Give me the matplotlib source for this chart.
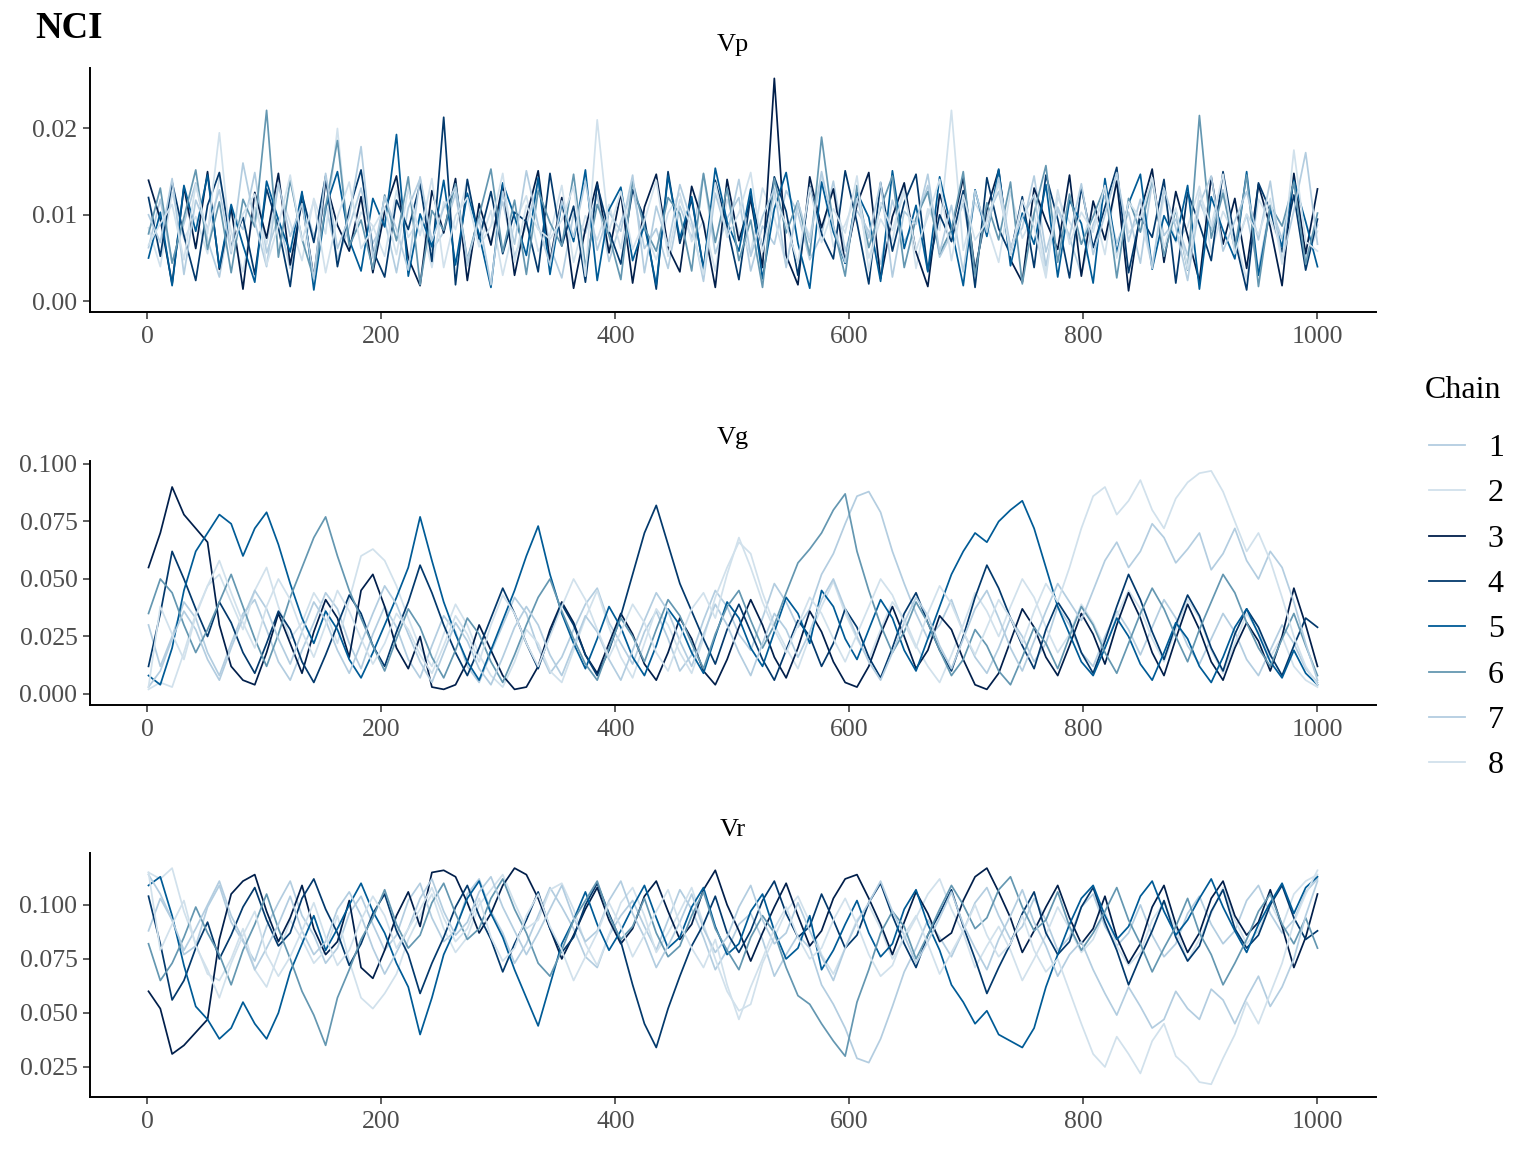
import numpy as np
import matplotlib.pyplot as plt
from matplotlib.lines import Line2D

plt.rcParams['font.family'] = ['Liberation Serif', 'DejaVu Serif']

chain_labels = ['1', '2', '3', '4', '5', '6', '7', '8']
chain_colors = ['#b3cde0', '#d1e1ec', '#011f4b', '#03396c', '#005b96', '#6497b1', '#b3cde0', '#d1e1ec']

# Vp draws, one value every ~10 iterations (units of 1e-4)
vp_1 = [62, 118, 45, 90, 137, 71, 28, 104, 83, 149, 56, 97, 38, 121, 75, 112, 49, 86, 131, 67,
        94, 33, 108, 142, 59, 80, 125, 41, 99, 70, 115, 52, 88, 136, 64, 27, 101, 79, 123, 46,
        92, 130, 61, 84, 38, 110, 73, 147, 55, 96, 120, 35, 87, 66, 128, 102, 48, 77, 139, 58,
        105, 81, 43, 117, 69, 93, 134, 51, 78, 113, 40, 98, 127, 63, 85, 145, 57, 106, 74, 31,
        89, 122, 67, 103, 44, 138, 76, 95, 53, 116, 82, 129, 60, 100, 36, 111, 72, 140, 50, 88]
vp_2 = [85, 40, 126, 72, 98, 55, 143, 81, 34, 109, 66, 132, 91, 47, 119, 78, 200, 60, 103, 87,
        52, 128, 74, 96, 39, 115, 83, 141, 64, 105, 30, 90, 122, 58, 77, 134, 45, 99, 71, 112,
        61, 137, 84, 48, 102, 125, 69, 93, 35, 118, 80, 56, 131, 97, 42, 108, 75, 146, 63, 89,
        124, 50, 95, 70, 136, 38, 107, 82, 221, 59, 114, 88, 45, 127, 73, 101, 33, 120, 92, 66,
        110, 54, 142, 79, 97, 41, 121, 68, 86, 133, 57, 104, 76, 25, 118, 94, 62, 139, 48, 81]
vp_3 = [140, 95, 20, 132, 61, 150, 37, 108, 14, 126, 73, 148, 42, 115, 27, 139, 88, 58, 121, 33,
        104, 145, 50, 18, 128, 79, 142, 24, 113, 65, 136, 30, 97, 151, 46, 120, 15, 84, 138, 56,
        125, 21, 109, 147, 62, 34, 133, 90, 16, 141, 70, 118, 39, 258, 53, 19, 144, 85, 130, 44,
        112, 149, 26, 98, 137, 57, 17, 124, 81, 143, 35, 106, 152, 48, 22, 131, 93, 60, 146, 29,
        116, 71, 139, 12, 103, 153, 45, 127, 76, 23, 144, 66, 119, 38, 135, 86, 18, 148, 55, 130]
vp_4 = [120, 52, 138, 76, 24, 111, 149, 63, 97, 31, 130, 85, 17, 124, 68, 145, 40, 106, 152, 59,
        28, 117, 83, 136, 46, 213, 19, 141, 72, 127, 55, 103, 92, 34, 148, 64, 110, 22, 135, 81,
        43, 129, 96, 14, 150, 67, 118, 38, 140, 87, 25, 122, 61, 144, 104, 30, 133, 78, 49, 151,
        91, 20, 137, 58, 114, 147, 35, 100, 69, 128, 16, 143, 84, 54, 121, 39, 146, 95, 27, 132,
        62, 109, 155, 33, 98, 74, 141, 21, 126, 89, 47, 150, 71, 13, 137, 105, 57, 123, 36, 95]
vp_5 = [50, 103, 18, 134, 81, 146, 39, 112, 65, 22, 139, 94, 57, 127, 13, 108, 150, 71, 35, 119,
        86, 193, 29, 101, 63, 140, 42, 125, 77, 16, 137, 98, 53, 143, 31, 114, 69, 152, 24, 106,
        132, 47, 88, 19, 145, 73, 121, 36, 154, 92, 58, 130, 26, 107, 149, 67, 15, 138, 80, 44,
        126, 97, 23, 151, 61, 111, 34, 144, 84, 18, 129, 75, 153, 41, 102, 66, 135, 28, 117, 90,
        21, 142, 56, 113, 147, 37, 99, 70, 134, 14, 121, 82, 49, 150, 30, 107, 63, 140, 92, 40]
vp_6 = [78, 131, 44, 97, 152, 60, 115, 33, 118, 86, 221, 51, 140, 72, 26, 109, 186, 64, 94, 37,
        123, 70, 144, 19, 105, 82, 136, 48, 99, 153, 57, 117, 31, 128, 91, 64, 147, 40, 112, 76,
        25, 139, 85, 58, 120, 101, 35, 148, 68, 131, 47, 94, 16, 142, 79, 116, 53, 190, 87, 29,
        134, 62, 108, 145, 39, 96, 127, 55, 83, 150, 30, 114, 71, 138, 20, 102, 157, 45, 124, 66,
        98, 133, 27, 119, 80, 143, 52, 106, 36, 215, 73, 125, 60, 146, 17, 111, 87, 138, 43, 102]
vp_7 = [100, 68, 142, 31, 117, 84, 129, 55, 160, 92, 40, 137, 75, 113, 26, 148, 61, 98, 179, 50,
        121, 83, 36, 144, 70, 108, 132, 47, 95, 19, 127, 66, 151, 88, 42, 116, 74, 139, 59, 103,
        81, 146, 33, 110, 64, 135, 92, 23, 125, 77, 141, 52, 98, 130, 39, 115, 68, 150, 86, 45,
        119, 73, 138, 28, 104, 89, 147, 56, 111, 34, 128, 80, 143, 62, 97, 123, 41, 109, 75, 136,
        54, 100, 149, 69, 118, 38, 131, 85, 24, 112, 145, 58, 93, 127, 71, 139, 46, 105, 172, 66]
vp_8 = [65, 90, 112, 48, 135, 78, 195, 58, 101, 124, 42, 88, 146, 70, 116, 33, 97, 138, 61, 84,
        109, 54, 130, 76, 142, 39, 99, 120, 63, 87, 148, 45, 111, 83, 72, 94, 133, 29, 210, 81,
        127, 60, 93, 140, 52, 118, 85, 31, 137, 74, 102, 149, 57, 121, 89, 44, 132, 68, 107, 79,
        145, 35, 114, 82, 126, 59, 98, 141, 47, 123, 71, 92, 136, 53, 117, 86, 27, 129, 66, 103,
        80, 134, 50, 115, 96, 143, 62, 108, 37, 126, 87, 147, 55, 101, 77, 119, 43, 175, 69, 58]

# Vg draws (units of 1e-3)
vg_1 = [30, 12, 25, 40, 33, 18, 8, 22, 35, 41, 28, 14, 6, 19, 31, 44, 37, 22, 11, 26,
        38, 29, 15, 7, 21, 34, 27, 12, 5, 18, 30, 42, 35, 20, 9, 16, 28, 39, 46, 31,
        22, 13, 27, 36, 24, 10, 17, 32, 45, 38, 26, 19, 33, 48, 40, 29, 37, 52, 61, 74,
        86, 88, 79, 62, 48, 35, 24, 30, 41, 27, 16, 9, 20, 33, 25, 14, 22, 38, 30, 18,
        12, 25, 36, 28, 17, 29, 41, 33, 21, 13, 24, 35, 27, 15, 8, 19, 30, 22, 11, 5]
vg_2 = [2, 5, 3, 18, 35, 47, 52, 40, 28, 45, 55, 38, 24, 31, 44, 36, 22, 41, 60, 63,
        58, 47, 33, 20, 12, 26, 39, 30, 17, 8, 3, 14, 28, 22, 10, 5, 19, 33, 45, 29,
        16, 7, 22, 37, 30, 18, 9, 24, 42, 55, 66, 61, 44, 30, 20, 11, 25, 38, 49, 35,
        24, 15, 28, 40, 33, 21, 12, 5, 17, 30, 44, 36, 25, 38, 50, 42, 29, 18, 26, 39,
        31, 20, 34, 45, 37, 24, 14, 28, 41, 33, 19, 9, 22, 35, 27, 16, 25, 12, 6, 3]
vg_3 = [55, 70, 90, 78, 72, 66, 30, 12, 6, 4, 18, 35, 22, 9, 27, 41, 33, 16, 45, 52,
        38, 20, 11, 25, 3, 2, 4, 14, 30, 19, 8, 2, 3, 12, 28, 40, 31, 17, 9, 22,
        35, 26, 13, 6, 18, 33, 24, 10, 4, 15, 29, 41, 30, 16, 7, 20, 36, 27, 14, 5,
        3, 12, 26, 38, 25, 11, 19, 34, 28, 15, 4, 2, 9, 23, 37, 29, 16, 8, 21, 35,
        26, 13, 30, 44, 33, 18, 8, 24, 39, 28, 14, 6, 20, 31, 23, 10, 25, 46, 30, 12]
vg_4 = [12, 35, 62, 50, 37, 25, 40, 31, 18, 9, 22, 36, 28, 14, 5, 17, 30, 43, 35, 21,
        12, 27, 40, 56, 44, 30, 18, 8, 20, 33, 46, 35, 22, 11, 26, 39, 30, 17, 8, 19,
        34, 52, 70, 82, 65, 48, 36, 24, 13, 28, 39, 27, 15, 6, 19, 32, 25, 12, 22, 37,
        29, 16, 7, 20, 35, 44, 31, 19, 10, 25, 42, 56, 46, 33, 21, 11, 28, 40, 32, 18,
        9, 23, 38, 52, 41, 27, 15, 30, 43, 34, 20, 10, 26, 37, 29, 17, 8, 21, 33, 29]
vg_5 = [8, 4, 20, 45, 62, 70, 78, 74, 60, 72, 79, 65, 48, 33, 22, 36, 28, 15, 7, 18,
        30, 42, 55, 77, 58, 40, 26, 14, 6, 19, 32, 45, 60, 73, 52, 35, 22, 11, 24, 38,
        29, 16, 8, 21, 37, 30, 18, 9, 25, 40, 33, 20, 12, 27, 42, 35, 22, 45, 38, 24,
        15, 28, 41, 33, 19, 10, 24, 38, 52, 62, 70, 66, 75, 80, 84, 72, 55, 38, 26, 14,
        8, 20, 33, 25, 13, 6, 18, 31, 24, 12, 5, 16, 29, 37, 26, 14, 7, 19, 9, 4]
vg_6 = [35, 50, 44, 30, 18, 28, 40, 52, 38, 24, 12, 26, 42, 55, 68, 77, 60, 45, 33, 21,
        10, 24, 37, 29, 16, 7, 19, 33, 26, 14, 5, 17, 30, 42, 50, 36, 24, 13, 6, 20,
        33, 25, 14, 28, 41, 34, 22, 11, 26, 38, 45, 32, 20, 30, 44, 57, 63, 70, 80, 87,
        62, 45, 30, 18, 27, 40, 31, 19, 8, 15, 28, 21, 10, 4, 16, 29, 22, 11, 25, 38,
        30, 18, 9, 22, 35, 46, 37, 25, 14, 28, 40, 52, 44, 31, 20, 12, 24, 35, 21, 8]
vg_7 = [3, 10, 24, 36, 28, 15, 6, 20, 33, 45, 37, 24, 13, 27, 40, 32, 19, 9, 22, 35,
        47, 39, 26, 14, 5, 18, 31, 23, 11, 4, 16, 29, 38, 30, 17, 8, 21, 34, 27, 15,
        6, 19, 32, 44, 36, 23, 12, 26, 39, 30, 18, 8, 22, 35, 28, 16, 27, 41, 50, 37,
        25, 14, 6, 18, 31, 42, 34, 21, 11, 24, 37, 45, 33, 20, 10, 23, 36, 48, 40, 32,
        45, 58, 66, 55, 62, 74, 68, 57, 63, 70, 54, 61, 72, 58, 50, 62, 55, 40, 22, 6]
vg_8 = [3, 38, 26, 15, 34, 47, 58, 44, 31, 20, 38, 50, 41, 27, 16, 30, 45, 36, 24, 13,
        22, 35, 28, 17, 9, 21, 34, 26, 14, 30, 43, 35, 22, 12, 25, 38, 50, 41, 28, 16,
        27, 39, 31, 18, 10, 24, 37, 44, 33, 52, 68, 55, 40, 28, 18, 30, 42, 35, 24, 14,
        26, 38, 50, 43, 31, 20, 35, 47, 39, 27, 17, 29, 41, 33, 22, 36, 48, 40, 55, 72,
        86, 90, 78, 84, 93, 80, 72, 85, 92, 96, 97, 88, 75, 62, 70, 58, 42, 25, 12, 4]

# Vr draws (units of 1e-3)
vr_1 = [88, 103, 93, 77, 81, 99, 109, 92, 83, 74, 90, 101, 111, 95, 86, 73, 80, 96, 104, 91,
        79, 86, 102, 110, 94, 83, 88, 105, 112, 97, 87, 73, 82, 95, 108, 99, 89, 76, 71, 86,
        95, 102, 90, 79, 93, 107, 98, 85, 70, 79, 91, 96, 84, 67, 77, 86, 80, 63, 54, 43,
        29, 27, 38, 53, 69, 80, 93, 85, 76, 88, 101, 108, 95, 84, 90, 103, 93, 79, 85, 99,
        105, 90, 81, 87, 100, 86, 76, 82, 96, 104, 91, 82, 88, 102, 109, 96, 87, 93, 106, 112]
vr_2 = [115, 112, 117, 97, 82, 68, 65, 75, 89, 70, 62, 77, 93, 84, 73, 79, 95, 74, 57, 52,
        59, 68, 84, 95, 105, 89, 78, 85, 100, 107, 114, 101, 89, 93, 107, 110, 98, 82, 72, 86,
        101, 108, 95, 78, 87, 97, 108, 91, 75, 60, 51, 54, 73, 85, 97, 104, 92, 77, 68, 80,
        93, 100, 89, 75, 84, 94, 105, 112, 98, 87, 71, 81, 90, 79, 65, 75, 86, 99, 89, 78,
        84, 97, 81, 72, 78, 93, 101, 89, 74, 84, 96, 108, 93, 82, 88, 101, 90, 105, 111, 114]
vr_3 = [60, 52, 31, 35, 41, 47, 84, 105, 111, 114, 97, 83, 94, 109, 89, 77, 83, 102, 71, 66,
        79, 95, 106, 90, 115, 116, 113, 101, 87, 96, 109, 117, 114, 103, 89, 75, 86, 98, 108, 93,
        82, 89, 104, 111, 97, 84, 91, 107, 116, 100, 88, 74, 87, 99, 110, 95, 81, 88, 103, 112,
        114, 103, 91, 77, 92, 106, 96, 83, 87, 102, 113, 117, 106, 94, 78, 88, 99, 109, 94, 82,
        89, 104, 85, 73, 82, 99, 109, 91, 78, 87, 103, 111, 95, 86, 92, 107, 90, 71, 85, 105]
vr_4 = [104, 82, 56, 65, 80, 92, 75, 86, 99, 108, 93, 81, 87, 103, 112, 98, 87, 72, 82, 96,
        105, 88, 77, 59, 73, 85, 99, 109, 95, 84, 69, 82, 93, 106, 89, 78, 85, 100, 110, 96,
        83, 63, 45, 34, 52, 67, 81, 91, 104, 87, 78, 88, 102, 111, 96, 85, 90, 105, 93, 80,
        86, 101, 110, 95, 82, 71, 86, 96, 107, 90, 75, 59, 71, 82, 96, 106, 87, 77, 83, 99,
        108, 92, 79, 63, 76, 88, 102, 85, 74, 81, 97, 107, 89, 80, 86, 100, 109, 94, 84, 88]
vr_5 = [109, 113, 95, 72, 53, 47, 38, 43, 55, 45, 38, 50, 69, 82, 95, 79, 89, 100, 110, 97,
        87, 73, 62, 40, 57, 77, 89, 103, 111, 96, 85, 70, 57, 44, 63, 82, 93, 106, 91, 79,
        88, 99, 109, 94, 80, 85, 99, 108, 90, 77, 82, 97, 105, 88, 75, 80, 95, 70, 79, 91,
        102, 87, 76, 82, 98, 107, 91, 79, 63, 55, 45, 51, 40, 37, 34, 43, 62, 77, 91, 103,
        109, 95, 84, 90, 104, 111, 97, 86, 93, 103, 112, 99, 88, 78, 91, 101, 110, 96, 108, 113]
vr_6 = [82, 65, 73, 85, 99, 87, 77, 63, 79, 91, 105, 89, 75, 60, 49, 35, 57, 70, 84, 94,
        107, 91, 80, 86, 101, 110, 96, 84, 89, 103, 112, 98, 87, 73, 67, 79, 93, 102, 111, 95,
        84, 90, 103, 87, 76, 81, 95, 106, 89, 79, 70, 85, 95, 87, 71, 58, 54, 45, 37, 30,
        55, 70, 87, 97, 90, 75, 86, 98, 109, 100, 89, 94, 107, 113, 99, 88, 93, 106, 90, 79,
        87, 97, 108, 93, 82, 69, 80, 90, 103, 87, 77, 63, 73, 84, 97, 105, 91, 82, 94, 80]
vr_7 = [114, 105, 93, 79, 89, 100, 111, 95, 84, 70, 80, 91, 104, 88, 77, 83, 98, 106, 95, 80,
        68, 78, 89, 103, 112, 97, 86, 92, 106, 113, 99, 88, 77, 87, 98, 109, 94, 83, 88, 102,
        111, 96, 85, 71, 81, 92, 105, 89, 78, 85, 99, 109, 93, 82, 87, 101, 88, 76, 65, 80,
        92, 101, 111, 97, 86, 73, 83, 94, 106, 91, 80, 70, 84, 95, 107, 92, 81, 67, 77, 83,
        70, 59, 49, 62, 53, 43, 47, 60, 52, 47, 61, 56, 45, 57, 67, 53, 62, 75, 95, 111]
vr_8 = [115, 79, 91, 102, 81, 70, 57, 73, 86, 97, 77, 67, 76, 88, 101, 85, 72, 79, 93, 104,
        95, 80, 89, 98, 108, 94, 83, 89, 103, 85, 74, 80, 95, 105, 90, 79, 65, 76, 87, 101,
        90, 76, 86, 97, 107, 91, 80, 71, 84, 63, 47, 62, 75, 89, 99, 85, 75, 80, 93, 103,
        91, 77, 67, 72, 86, 95, 82, 68, 78, 88, 100, 86, 76, 82, 95, 79, 69, 75, 60, 45,
        31, 25, 39, 31, 22, 37, 45, 30, 25, 18, 17, 29, 40, 55, 45, 59, 73, 92, 105, 116]

panels = [
    ('Vp', [vp_1, vp_2, vp_3, vp_4, vp_5, vp_6, vp_7, vp_8], 1e-4,
     [0.0, 0.01, 0.02], ['0.00', '0.01', '0.02'], (-0.00125, 0.0270)),
    ('Vg', [vg_1, vg_2, vg_3, vg_4, vg_5, vg_6, vg_7, vg_8], 1e-3,
     [0.0, 0.025, 0.05, 0.075, 0.1], ['0.000', '0.025', '0.050', '0.075', '0.100'], (-0.0048, 0.1013)),
    ('Vr', [vr_1, vr_2, vr_3, vr_4, vr_5, vr_6, vr_7, vr_8], 1e-3,
     [0.025, 0.05, 0.075, 0.1], ['0.025', '0.050', '0.075', '0.100'], (0.0111, 0.1240)),
]

fig = plt.figure(figsize=(15.36, 11.52), dpi=100)
W, H = 1536, 1152
left, right = 90, 1376
tops = [68, 461, 853]
panel_h = 244

for (name, chains, unit, yt, ytl, ylim), top in zip(panels, tops):
    ax = fig.add_axes([left / W, 1 - (top + panel_h) / H, (right - left) / W, panel_h / H])
    for vals, col in zip(chains, chain_colors):
        iters = np.linspace(1, 1000, len(vals))
        ax.plot(iters, np.array(vals) * unit, color=col, lw=1.25)
    ax.set_xlim(-49, 1050)
    ax.set_ylim(*ylim)
    ax.set_xticks([0, 200, 400, 600, 800, 1000])
    ax.set_yticks(yt)
    ax.set_yticklabels(ytl)
    for s in ['top', 'right']:
        ax.spines[s].set_visible(False)
    for s in ['left', 'bottom']:
        ax.spines[s].set_linewidth(1.4)
        ax.spines[s].set_color('black')
    ax.tick_params(direction='out', length=5, width=1.1, color='#333333',
                   labelcolor='#4d4d4d', labelsize=18.5)
    ax.tick_params(axis='x', pad=5)
    ax.tick_params(axis='y', pad=4)
    fig.text((left + right) / 2 / W, 1 - (top - 23) / H, name, ha='center', va='center',
             fontsize=19, color='black')

fig.text(35 / W, 1 - 28 / H, 'NCI', ha='left', va='center', fontsize=26.5, fontweight='bold')

fig.text(1425 / W, 1 - 391 / H, 'Chain', ha='left', va='center', fontsize=23)
handles = [Line2D([], [], color=c, lw=1.3) for c in chain_colors]
leg = fig.legend(handles, chain_labels, loc='upper left',
                 bbox_to_anchor=(1400 / W, 1 - 405 / H), frameon=False, fontsize=23,
                 handlelength=1.15, handletextpad=0.7, labelspacing=0.5)

fig.savefig('out.png', dpi=100)
